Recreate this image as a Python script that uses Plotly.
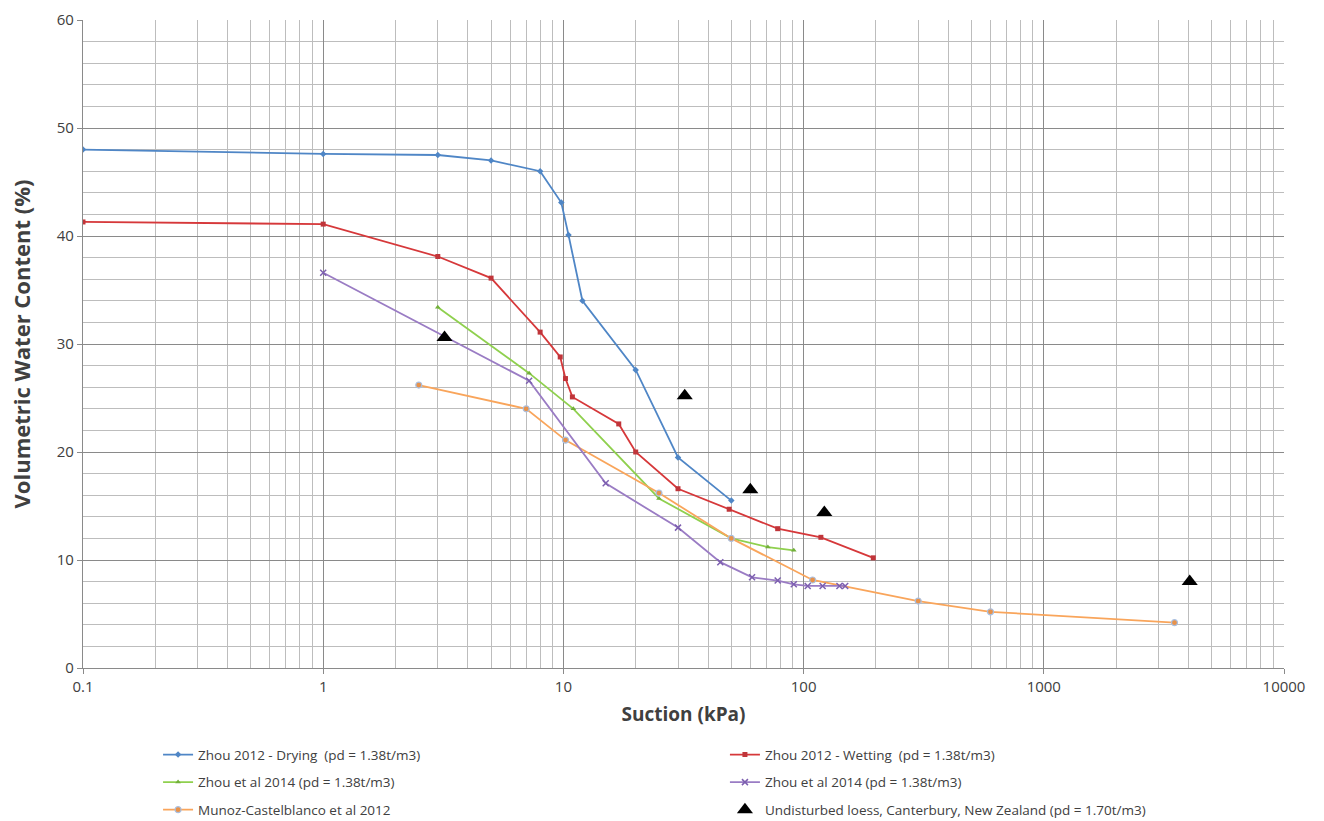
import plotly.graph_objects as go

# ---- data ----
drying_x = [0.1, 1, 3, 5, 8, 9.8, 10.5, 12, 20, 30, 50]
drying_y = [48.0, 47.6, 47.5, 47.0, 46.0, 43.1, 40.1, 34.0, 27.6, 19.5, 15.5]

wetting_x = [0.1, 1, 3, 5, 8, 9.7, 10.2, 10.9, 17, 20, 30, 49, 78, 118, 195]
wetting_y = [41.3, 41.1, 38.1, 36.1, 31.1, 28.8, 26.8, 25.1, 22.6, 20.0, 16.6, 14.7, 12.9, 12.1, 10.2]

zhou14a_x = [3, 7.2, 11, 25, 50, 71, 91]
zhou14a_y = [33.4, 27.3, 24.0, 15.7, 12.0, 11.2, 10.9]

zhou14b_x = [1, 7.2, 15, 30, 45, 61, 78, 91, 104, 120, 141, 149]
zhou14b_y = [36.6, 26.6, 17.1, 13.0, 9.8, 8.4, 8.1, 7.75, 7.6, 7.6, 7.6, 7.6]

munoz_x = [2.5, 7, 10.2, 25, 50, 109, 300, 600, 3500]
munoz_y = [26.2, 24.0, 21.1, 16.2, 12.0, 8.15, 6.2, 5.2, 4.2]

loess_x = [3.2, 32, 60, 122, 4050]
loess_y = [30.6, 25.2, 16.5, 14.4, 8.0]

x_tickvals = [0.1, 1, 10, 100, 1000, 10000]
x_ticktext = ["0.1", "1", "10", "100", "1000", "10000"]

names = [
    "Zhou 2012 - Drying  (pd = 1.38t/m3)",
    "Zhou 2012 - Wetting  (pd = 1.38t/m3)",
    "Zhou et al 2014 (pd = 1.38t/m3)",
    "Zhou et al 2014 (pd = 1.38t/m3)",
    "Munoz-Castelblanco et al 2012",
    "Undisturbed loess, Canterbury, New Zealand (pd = 1.70t/m3)",
]

C_BLUE = "#4f86c6"
C_RED = "#d6383a"
C_GREEN = "#8fd04e"
C_PURPLE = "#9a7cc4"
C_ORANGE = "#f9a55b"

fig = go.Figure()

fig.add_trace(go.Scatter(x=drying_x, y=drying_y, mode="lines+markers", name=names[0],
                         line=dict(color=C_BLUE, width=1.8),
                         marker=dict(symbol="diamond", size=5, color=C_BLUE),
                         legend="legend", legendgroup="a"))
fig.add_trace(go.Scatter(x=zhou14a_x, y=zhou14a_y, mode="lines+markers", name=names[2],
                         line=dict(color=C_GREEN, width=1.8),
                         marker=dict(symbol="triangle-up", size=5, color="#72b03a"),
                         legend="legend", legendgroup="c"))
fig.add_trace(go.Scatter(x=munoz_x, y=munoz_y, mode="lines+markers", name=names[4],
                         line=dict(color=C_ORANGE, width=1.8),
                         marker=dict(symbol="circle", size=6, color="#e8924a",
                                     line=dict(color="#a9bfe0", width=1.2)),
                         legend="legend", legendgroup="e"))

fig.add_trace(go.Scatter(x=wetting_x, y=wetting_y, mode="lines+markers", name=names[1],
                         line=dict(color=C_RED, width=1.8),
                         marker=dict(symbol="square", size=5, color="#c0353a"),
                         legend="legend2", legendgroup="b"))
fig.add_trace(go.Scatter(x=zhou14b_x, y=zhou14b_y, mode="lines+markers", name=names[3],
                         line=dict(color=C_PURPLE, width=1.8),
                         marker=dict(symbol="x-thin", size=6, color="#7d5fb0",
                                     line=dict(color="#7d5fb0", width=1.5)),
                         legend="legend2", legendgroup="d"))
fig.add_trace(go.Scatter(x=loess_x, y=loess_y, mode="markers", name=names[5],
                         marker=dict(symbol="triangle-up", size=14, color="black"),
                         legend="legend2", legendgroup="f"))

FONT = "Open Sans"
TXT = "#404040"

legend_common = dict(
    orientation="v", xanchor="left", yanchor="top",
    font=dict(family=FONT, size=13.5, color=TXT),
    bgcolor="rgba(0,0,0,0)", tracegroupgap=7, itemwidth=30,
)

fig.update_layout(
    width=1324, height=821,
    margin=dict(l=83, r=40, t=20, b=153, autoexpand=False),
    paper_bgcolor="white", plot_bgcolor="white",
    font=dict(family=FONT, color=TXT),
    showlegend=True,
    legend=dict(x=0.0625, y=-0.110, **legend_common),
    legend2=dict(x=0.5345, y=-0.110, **legend_common),
)

fig.update_xaxes(
    type="log", range=[-1, 4],
    tickvals=x_tickvals, ticktext=x_ticktext,
    showgrid=True, gridcolor="#8a8a8a", gridwidth=1.2,
    minor=dict(showgrid=True, gridcolor="#bdbdbd", gridwidth=1.2, dtick="D1",
               ticks=""),
    showline=True, linecolor="#8a8a8a", linewidth=1.2,
    ticks="outside", ticklen=5, tickcolor="#8a8a8a",
    tickfont=dict(family=FONT, size=15, color=TXT),
    title=dict(text="<b>Suction (kPa)</b>", font=dict(family=FONT, size=19, color=TXT),
               standoff=12),
    zeroline=False,
)
fig.update_yaxes(
    range=[0, 60], dtick=10, tick0=0,
    showgrid=True, gridcolor="#8a8a8a", gridwidth=1.2,
    minor=dict(showgrid=True, gridcolor="#bdbdbd", gridwidth=1.2, dtick=2, ticks=""),
    showline=True, linecolor="#8a8a8a", linewidth=1.2,
    ticks="outside", ticklen=5, tickcolor="#8a8a8a",
    tickfont=dict(family=FONT, size=15, color=TXT),
    title=dict(text="<b>Volumetric Water Content (%)</b>",
               font=dict(family=FONT, size=22, color=TXT), standoff=20),
    zeroline=False,
)

fig.write_html("out.html")
